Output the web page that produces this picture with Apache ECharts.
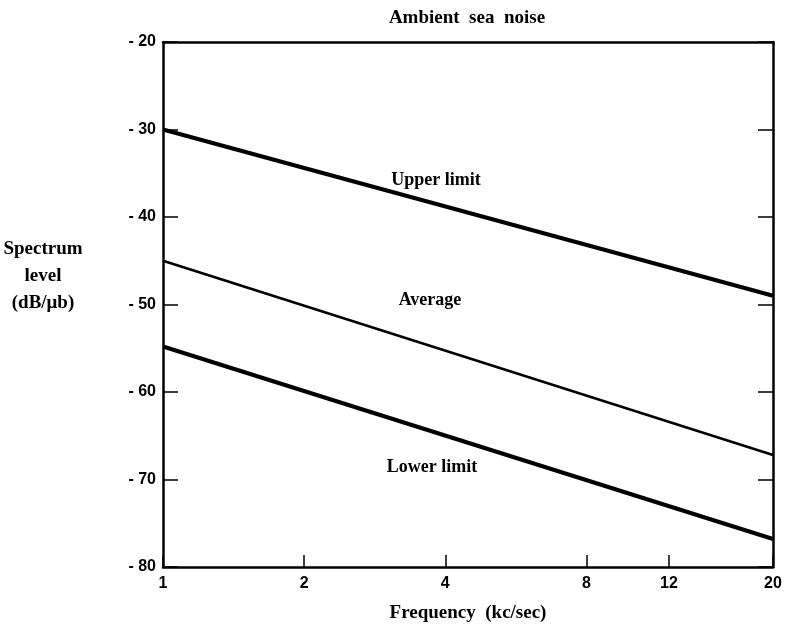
<!DOCTYPE html>
<html>
<head>
<meta charset="utf-8">
<script src="https://cdn.jsdelivr.net/npm/echarts@6/dist/echarts.min.js"></script>
<style>html,body{margin:0;padding:0;background:#fff}#c{width:785px;height:629px}</style>
</head>
<body>
<div id="c"></div>
<script>
const freqTicks = [1, 2, 4, 8, 12, 20];
const levelTicks = [-20, -30, -40, -50, -60, -70, -80];
const freqEnds = [1, 20];
const upperLimit = [-30, -49.0];
const average = [-45, -67.2];
const lowerLimit = [-54.8, -76.8];

const serif = '"Liberation Serif","DejaVu Serif",serif';
const sans = '"Liberation Sans","DejaVu Sans",sans-serif';
const pair = (xs, ys) => xs.map((x, i) => [x, ys[i]]);

const chart = echarts.init(document.getElementById('c'), null, {renderer: 'canvas'});
const line = (name, ys, w) => ({
  name, type: 'line', data: pair(freqEnds, ys), xAxisIndex: 0, yAxisIndex: 0,
  showSymbol: false, symbol: 'none', lineStyle: {color: '#000', width: w}, silent: true, animation: false
});
chart.setOption({
  animation: false,
  grid: {left: 163, right: 12, top: 42, bottom: 62, show: false, containLabel: false, outerBoundsMode: 'none'},
  title: {
    text: 'Ambient  sea  noise', left: 462, top: 4, textAlign: 'center',
    textStyle: {fontFamily: serif, fontSize: 19, fontWeight: 'bold', color: '#000'}
  },
  xAxis: [{
    type: 'log', logBase: 10, min: 1, max: 20, position: 'bottom',
    axisLine: {show: true, lineStyle: {color: '#000', width: 2.5}},
    axisTick: {show: true, inside: true, length: 12, customValues: freqTicks, lineStyle: {color: '#000', width: 1.5}},
    axisLabel: {show: true, customValues: freqTicks, margin: 9, color: '#000', fontFamily: sans, fontWeight: 'bold', fontSize: 16},
    splitLine: {show: false}, minorTick: {show: false},
    name: 'Frequency  (kc/sec)', nameLocation: 'middle', nameGap: 37,
    nameTextStyle: {fontFamily: serif, fontSize: 19, fontWeight: 'bold', color: '#000'}
  }, {
    type: 'log', logBase: 10, min: 1, max: 20, position: 'top',
    axisLine: {show: true, lineStyle: {color: '#000', width: 2.5}},
    axisTick: {show: false}, axisLabel: {show: false}, splitLine: {show: false}
  }],
  yAxis: [{
    type: 'value', min: -80, max: -20, interval: 10, position: 'left',
    axisLine: {show: true, lineStyle: {color: '#000', width: 2.5}},
    axisTick: {show: true, inside: true, length: 15, lineStyle: {color: '#000', width: 1.5}},
    axisLabel: {show: true, margin: 7, color: '#000', fontFamily: sans, fontWeight: 'bold', fontSize: 16,
      formatter: v => levelTicks.includes(v) ? '- ' + Math.abs(v) : ''},
    splitLine: {show: false}
  }, {
    type: 'value', min: -80, max: -20, interval: 10, position: 'right',
    axisLine: {show: true, lineStyle: {color: '#000', width: 2.5}},
    axisTick: {show: true, inside: true, length: 15, lineStyle: {color: '#000', width: 1.5}},
    axisLabel: {show: false}, splitLine: {show: false}
  }],
  graphic: [
    {type: 'text', x: 43, y: 236, style: {text: 'Spectrum\nlevel\n(dB/\u03bcb)', font: 'bold 19px ' + serif, fill: '#000', lineHeight: 27, align: 'center'}},
    {type: 'text', x: 436, y: 180, style: {text: 'Upper limit', font: 'bold 18px ' + serif, fill: '#000', align: 'center', verticalAlign: 'middle'}},
    {type: 'text', x: 430, y: 300, style: {text: 'Average', font: 'bold 18px ' + serif, fill: '#000', align: 'center', verticalAlign: 'middle'}},
    {type: 'text', x: 432, y: 467, style: {text: 'Lower limit', font: 'bold 18px ' + serif, fill: '#000', align: 'center', verticalAlign: 'middle'}}
  ],
  series: [
    line('Upper limit', upperLimit, 4),
    line('Average', average, 2.5),
    line('Lower limit', lowerLimit, 4)
  ]
});
</script>
</body>
</html>
